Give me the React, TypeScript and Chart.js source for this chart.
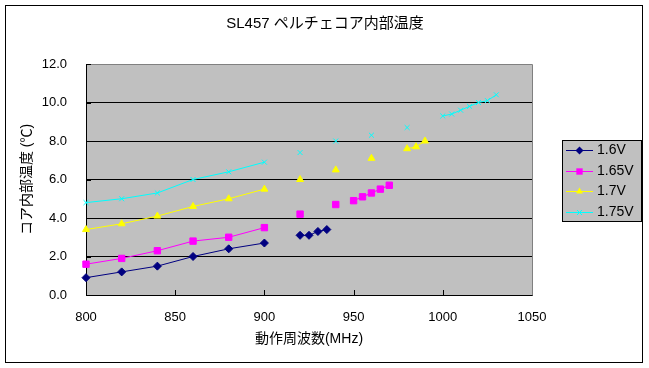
import { useEffect, useRef } from "react";
import { Chart, registerables } from "chart.js";

Chart.register(...registerables);

// ---- text ----
const chartTitle = "SL457 ペルチェコア内部温度";
const xAxisTitle = "動作周波数(MHz)";
const yAxisTitle = "コア内部温度 (℃)";
const seriesNames = ["1.6V", "1.65V", "1.7V", "1.75V"];

// ---- axis ranges / ticks ----
const xMin = 800;
const xMax = 1050;
const xStep = 50;
const yMin = 0;
const yMax = 12;
const yStep = 2;

// ---- data (null = blank cell -> gap in line) ----
const freq = [800, 820, 840, 860, 880, 900, 910, 920, 925, 930, 935, 940, 945, 950, 955, 960, 965, 970, 975, 980, 985, 990, 995, 1000, 1005, 1010, 1015, 1020, 1025, 1030];
const v160 = [0.9, 1.2, 1.5, 2.0, 2.4, 2.7, null, 3.1, 3.1, 3.3, 3.4, null, null, null, null, null, null, null, null, null, null, null, null, null, null, null, null, null, null, null];
const v165 = [1.6, 1.9, 2.3, 2.8, 3.0, 3.5, null, 4.2, null, null, null, 4.7, null, 4.9, 5.1, 5.3, 5.5, 5.7, null, null, null, null, null, null, null, null, null, null, null, null];
const v170 = [3.4, 3.7, 4.1, 4.6, 5.0, 5.5, null, 6.0, null, null, null, 6.5, null, null, null, 7.1, null, null, null, 7.6, 7.7, 8.0, null, null, null, null, null, null, null, null];
const v175 = [4.8, 5.0, 5.3, 6.0, 6.4, 6.9, null, 7.4, null, null, null, 8.0, null, null, null, 8.3, null, null, null, 8.7, null, null, null, 9.3, 9.4, 9.6, 9.8, 10.0, 10.1, 10.4];

const seriesValues = [v160, v165, v170, v175];
const colors = ["#000080", "#FF00FF", "#FFFF00", "#00FFFF"];
const pointStyles = ["rectRot", "rect", "triangle", "crossRot"];
const pointRadii = [4, 4.5, 4, 3.5];

const FONT = '"Liberation Sans", "Noto Sans CJK JP", sans-serif';
const PLOT_BG = "#C0C0C0";

function drawMarker(ctx: CanvasRenderingContext2D, style: string, x: number, y: number, r: number, color: string) {
  ctx.save();
  ctx.fillStyle = color;
  ctx.strokeStyle = color;
  ctx.lineWidth = 1;
  ctx.beginPath();
  if (style === "rectRot") {
    ctx.moveTo(x - r, y);
    ctx.lineTo(x, y - r);
    ctx.lineTo(x + r, y);
    ctx.lineTo(x, y + r);
    ctx.closePath();
    ctx.fill();
  } else if (style === "rect") {
    const s = r * Math.SQRT1_2;
    ctx.rect(x - s, y - s, 2 * s, 2 * s);
    ctx.fill();
  } else if (style === "triangle") {
    ctx.moveTo(x, y - r);
    ctx.lineTo(x + r * 0.866, y + r / 2);
    ctx.lineTo(x - r * 0.866, y + r / 2);
    ctx.closePath();
    ctx.fill();
  } else {
    const s = r * Math.SQRT1_2;
    ctx.moveTo(x - s, y - s);
    ctx.lineTo(x + s, y + s);
    ctx.moveTo(x + s, y - s);
    ctx.lineTo(x - s, y + s);
    ctx.stroke();
  }
  ctx.restore();
}

const decorPlugin = {
  id: "excelDecor",
  beforeDraw(chart: any) {
    const { ctx, chartArea: a, width, height } = chart;
    ctx.save();
    ctx.fillStyle = "#FFFFFF";
    ctx.fillRect(0, 0, width, height);
    ctx.fillStyle = PLOT_BG;
    ctx.fillRect(a.left, a.top, a.right - a.left, a.bottom - a.top);
    ctx.restore();
  },
  beforeDatasetsDraw(chart: any) {
    const { ctx, chartArea: a } = chart;
    const xs = chart.scales.x;
    const ys = chart.scales.y;
    ctx.save();
    // plot area top/right border (gray)
    ctx.strokeStyle = "#808080";
    ctx.lineWidth = 1;
    ctx.beginPath();
    ctx.moveTo(Math.round(a.left) + 0.5, Math.round(a.top) + 0.5);
    ctx.lineTo(Math.round(a.right) + 0.5, Math.round(a.top) + 0.5);
    ctx.lineTo(Math.round(a.right) + 0.5, Math.round(a.bottom) + 0.5);
    ctx.stroke();
    // inside tick marks
    ctx.strokeStyle = "#000000";
    ctx.beginPath();
    for (let v = xMin + xStep; v < xMax; v += xStep) {
      const px = Math.round(xs.getPixelForValue(v)) + 0.5;
      ctx.moveTo(px, a.bottom);
      ctx.lineTo(px, a.bottom - 5);
    }
    for (let v = yMin + yStep; v <= yMax; v += yStep) {
      const py = Math.round(ys.getPixelForValue(v)) + 0.5;
      ctx.moveTo(a.left, py);
      ctx.lineTo(a.left + 5, py);
    }
    ctx.stroke();
    ctx.restore();
  },
  afterDraw(chart: any) {
    const { ctx } = chart;
    ctx.save();
    // title
    ctx.fillStyle = "#000000";
    ctx.font = `15px ${FONT}`;
    ctx.textAlign = "center";
    ctx.textBaseline = "middle";
    ctx.fillText(chartTitle, 325, 24);
    // legend
    const lx = 562, ly = 140, lw = 79, lh = 81;
    ctx.fillStyle = PLOT_BG;
    ctx.fillRect(lx, ly, lw, lh);
    ctx.strokeStyle = "#000000";
    ctx.lineWidth = 1;
    ctx.strokeRect(lx + 0.5, ly + 0.5, lw, lh);
    ctx.font = `14px ${FONT}`;
    ctx.textAlign = "left";
    for (let i = 0; i < seriesNames.length; i++) {
      const y = Math.round(150 + i * 20.6) + 0.5;
      ctx.strokeStyle = colors[i];
      ctx.beginPath();
      ctx.moveTo(566, y);
      ctx.lineTo(593, y);
      ctx.stroke();
      drawMarker(ctx, pointStyles[i], 579.5, y, pointRadii[i], colors[i]);
      ctx.fillStyle = "#000000";
      ctx.fillText(seriesNames[i], 597, y);
    }
    // outer chart border
    ctx.strokeStyle = "#000000";
    ctx.lineWidth = 1;
    ctx.strokeRect(5.5, 5.5, 637, 357);
    ctx.restore();
  },
};

export default function App() {
  const canvasRef = useRef<HTMLCanvasElement | null>(null);

  useEffect(() => {
    document.body.style.margin = "0";
    const canvas = canvasRef.current;
    if (!canvas) return;
    const datasets = seriesValues.map((vals, i) => ({
      label: seriesNames[i],
      data: freq.map((x, j) => ({ x, y: vals[j] })),
      borderColor: colors[i],
      backgroundColor: colors[i],
      borderWidth: 1,
      pointStyle: pointStyles[i],
      pointRadius: pointRadii[i],
      pointBorderWidth: 1,
      pointBorderColor: colors[i],
      pointBackgroundColor: colors[i],
      spanGaps: false,
      tension: 0,
      clip: false,
    }));
    const chart = new Chart(canvas, {
      type: "line",
      data: { datasets } as any,
      plugins: [decorPlugin],
      options: {
        responsive: false,
        animation: false,
        devicePixelRatio: 1,
        layout: { padding: { top: 64, right: 117, left: 0, bottom: 0 } },
        plugins: { legend: { display: false }, tooltip: { enabled: false }, title: { display: false } },
        scales: {
          x: {
            type: "linear",
            min: xMin,
            max: xMax,
            ticks: {
              stepSize: xStep,
              color: "#000",
              font: { size: 13, family: FONT },
              padding: 15,
              maxRotation: 0,
              callback: (v: any) => String(v),
            },
            grid: { display: false, drawTicks: false },
            border: { display: true, color: "#000", width: 1 },
            title: {
              display: true,
              text: xAxisTitle,
              color: "#000",
              font: { size: 14, family: FONT },
              padding: { top: 0, bottom: 20 },
            },
            afterFit: (s: any) => {
              s.height = 73;
            },
          },
          y: {
            min: yMin,
            max: yMax,
            ticks: {
              stepSize: yStep,
              color: "#000",
              font: { size: 13, family: FONT },
              padding: 19,
              callback: (v: any) => Number(v).toFixed(1),
            },
            grid: {
              drawTicks: false,
              lineWidth: 1,
              color: (c: any) => (c.tick && c.tick.value === yMax ? "rgba(0,0,0,0)" : "#000"),
            },
            border: { display: true, color: "#000", width: 1 },
            title: {
              display: true,
              text: yAxisTitle,
              color: "#000",
              font: { size: 14, family: FONT },
              padding: { top: 19, bottom: 0 },
            },
            afterFit: (s: any) => {
              s.width = 86;
            },
          },
        },
      } as any,
    });
    return () => chart.destroy();
  }, []);

  return (
    <div style={{ width: 649, height: 368 }}>
      <canvas ref={canvasRef} width={649} height={368} style={{ display: "block", width: 649, height: 368 }} />
    </div>
  );
}
